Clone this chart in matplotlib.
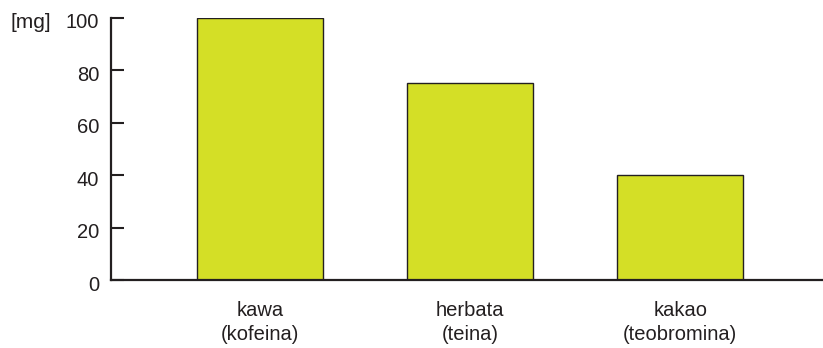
import matplotlib
matplotlib.use("Agg")
import matplotlib.pyplot as plt
from matplotlib.transforms import ScaledTranslation

categories = ["kawa\n(kofeina)", "herbata\n(teina)", "kakao\n(teobromina)"]
values = [100, 75, 40]
yticks = [0, 20, 40, 60, 80, 100]

plt.rcParams['font.family'] = ['Liberation Sans', 'DejaVu Sans']

fig = plt.figure(figsize=(8.23, 3.48), dpi=100)
ax = fig.add_axes([0.1349, 0.1954, 0.8651, 0.7529])

x = list(range(len(values)))
ax.bar(x, values, width=0.6, color="#d4df26", edgecolor="#231f20", linewidth=1.0, zorder=2)

ax.set_xlim(-0.71, 2.68)
ax.set_ylim(0, 100)
ax.set_yticks(yticks)
ax.set_xticks(x)
ax.set_xticklabels(categories, fontsize=14.5, color="#231f20", linespacing=1.35)
ax.tick_params(axis="x", length=0, pad=15)
ax.tick_params(axis="y", direction="in", length=9, width=1.5, color="#231f20",
               labelsize=14.5, labelcolor="#231f20", pad=8.5)
# labels sit a little below their ticks in the original
shift = ScaledTranslation(0, -3 / 100, fig.dpi_scale_trans)
for lab in ax.get_yticklabels():
    lab.set_transform(lab.get_transform() + shift)

for s in ["top", "right"]:
    ax.spines[s].set_visible(False)
for s in ["left", "bottom"]:
    ax.spines[s].set_linewidth(1.6)
    ax.spines[s].set_color("#231f20")
    ax.spines[s].set_zorder(3)

fig.text(11 / 823, (348 - 28) / 348, "[mg]", fontsize=15, color="#231f20",
         va="baseline", ha="left")

fig.savefig("out.png", dpi=100)
